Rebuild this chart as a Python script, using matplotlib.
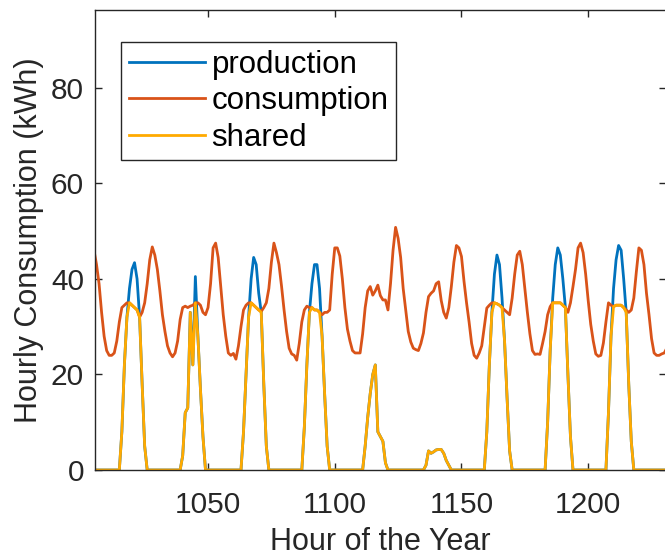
import numpy as np
import matplotlib
matplotlib.use("Agg")
import matplotlib.pyplot as plt

plt.rcParams['font.family'] = ['Liberation Sans', 'DejaVu Sans']

# hourly values, hour 1005 .. 1232 (rows of 24 hours starting at 1005)
hours = np.arange(1005, 1233)

consumption = [
    46, 43, 39, 33, 28, 25, 24, 24, 24.5, 27, 31, 34, 34.5, 35, 35, 34.5, 34, 33.5, 32, 33, 35, 39, 44, 46.7,
    45, 42, 37.5, 32.5, 29, 26, 24.5, 23.7, 24.5, 27, 31.5, 34, 34.3, 34, 34.3, 34.5, 35, 35, 34.5, 33, 32.5, 34, 39, 46.5,
    47.5, 44.5, 38.5, 32.5, 28, 24.5, 24, 24.4, 23.2, 26, 30, 33.5, 34.5, 35, 35, 34.5, 34, 33.5, 33.2, 34, 35, 38, 43.5, 47.5,
    45.5, 43, 38.5, 33.5, 29, 25.5, 24.3, 24, 23, 26.5, 31, 33.5, 34.3, 34, 34, 33.5, 33.5, 33, 32.5, 33, 33, 33.5, 41, 46.5,
    46.5, 44.8, 40, 34, 29.5, 27, 25, 24.5, 24.5, 24.5, 28.5, 34, 37.5, 38.4, 36.6, 37.5, 38.7, 36.5, 35.6, 35.6, 33.5, 39, 46, 50.8,
    48.5, 44.5, 38, 33.5, 29, 26.8, 25.5, 25.2, 25, 26.5, 28.7, 33, 36.3, 37, 37.5, 39, 39.4, 35.5, 33, 31.8, 34, 38.4, 43.5, 47,
    46.5, 44.7, 39.5, 35, 31, 26.5, 24, 23.4, 24.5, 26, 30, 33.9, 34.5, 35, 35, 34.8, 34.5, 34, 33.5, 33, 32.5, 36, 41, 45,
    45.8, 43, 38, 33, 28.5, 25, 24.2, 24.3, 24.2, 26.5, 29, 32.5, 34.2, 35, 35, 35, 35, 34.5, 34, 33, 35, 38.4, 42, 46.5,
    47.5, 45.5, 41, 35.5, 30.5, 27, 24.3, 23.8, 24, 26.6, 31, 35, 34.5, 34.2, 34.5, 34.5, 34.5, 34, 33.5, 33, 33.5, 36, 41.5, 46.5,
    46, 43, 37, 32.5, 27.5, 24.5, 24, 24, 24.3, 24.5, 25.5, 27,
]

production = [
    0, 0, 0, 0, 0, 0, 0, 0, 0, 0, 0, 8, 22, 32, 38, 42, 43.4, 40, 32, 18, 5, 0, 0, 0,
    0, 0, 0, 0, 0, 0, 0, 0, 0, 0, 0, 3, 12, 13, 33, 22, 40.5, 28, 17, 7, 0, 0, 0, 0,
    0, 0, 0, 0, 0, 0, 0, 0, 0, 0, 0, 8, 20, 32, 40, 44.5, 43, 37, 33, 18, 5, 0, 0, 0,
    0, 0, 0, 0, 0, 0, 0, 0, 0, 0, 0, 9, 22, 33, 39, 43, 43, 38, 28, 16, 5, 0, 0, 0,
    0, 0, 0, 0, 0, 0, 0, 0, 0, 0, 0, 5, 11, 16, 20, 22, 8, 7, 6, 1.5, 0, 0, 0, 0,
    0, 0, 0, 0, 0, 0, 0, 0, 0, 0, 0, 1, 4, 3.5, 3.8, 4.2, 4.3, 4.3, 3.5, 2, 1, 0, 0, 0,
    0, 0, 0, 0, 0, 0, 0, 0, 0, 0, 0, 8, 22, 33, 41, 45, 43, 36, 27, 15, 4, 0, 0, 0,
    0, 0, 0, 0, 0, 0, 0, 0, 0, 0, 0, 10, 25, 36, 43, 46.5, 45, 40, 34, 20, 7, 0, 0, 0,
    0, 0, 0, 0, 0, 0, 0, 0, 0, 0, 0, 12, 28, 38, 44, 47, 46, 40, 33, 18, 6, 0, 0, 0,
    0, 0, 0, 0, 0, 0, 0, 0, 0, 0, 0, 0,
]

shared = [
    0, 0, 0, 0, 0, 0, 0, 0, 0, 0, 0, 8, 22, 32, 35, 34.5, 34, 33.5, 32, 18, 5, 0, 0, 0,
    0, 0, 0, 0, 0, 0, 0, 0, 0, 0, 0, 3, 12, 13, 33, 22, 35, 28, 17, 7, 0, 0, 0, 0,
    0, 0, 0, 0, 0, 0, 0, 0, 0, 0, 0, 8, 20, 32, 35, 34.5, 34, 33.5, 33, 18, 5, 0, 0, 0,
    0, 0, 0, 0, 0, 0, 0, 0, 0, 0, 0, 9, 22, 33, 34, 33.5, 33.5, 33, 28, 16, 5, 0, 0, 0,
    0, 0, 0, 0, 0, 0, 0, 0, 0, 0, 0, 5, 11, 16, 20, 22, 8, 7, 6, 1.5, 0, 0, 0, 0,
    0, 0, 0, 0, 0, 0, 0, 0, 0, 0, 0, 1, 4, 3.5, 3.8, 4.2, 4.3, 4.3, 3.5, 2, 1, 0, 0, 0,
    0, 0, 0, 0, 0, 0, 0, 0, 0, 0, 0, 8, 22, 33, 35, 34.8, 34.5, 34, 27, 15, 4, 0, 0, 0,
    0, 0, 0, 0, 0, 0, 0, 0, 0, 0, 0, 10, 25, 35, 35, 35, 35, 34.5, 34, 20, 7, 0, 0, 0,
    0, 0, 0, 0, 0, 0, 0, 0, 0, 0, 0, 12, 28, 34.2, 34.5, 34.5, 34.5, 34, 33, 18, 6, 0, 0, 0,
    0, 0, 0, 0, 0, 0, 0, 0, 0, 0, 0, 0,
]

x_ticks = [1050, 1100, 1150, 1200]
y_ticks = [0, 20, 40, 60, 80]

fig = plt.figure(figsize=(6.65, 5.58), dpi=100)
ax = fig.add_axes([95 / 665, 88 / 558, 571 / 665, 460 / 558])

ax.plot(hours, production, color='#0072BD', lw=2, label='production')
ax.plot(hours, consumption, color='#D95319', lw=2, label='consumption')
ax.plot(hours, shared, color='#FFAA00', lw=2, label='shared')

ax.set_xlim(1005.4, 1230.7)
ax.set_ylim(0, 96.3)
ax.set_xticks(x_ticks)
ax.set_yticks(y_ticks)
ax.tick_params(direction='in', top=True, right=True, length=5, width=1,
               labelsize=21.5, colors='#262626')
ax.tick_params(axis='x', pad=15)
ax.tick_params(axis='y', pad=8)
for s in ax.spines.values():
    s.set_color('#262626')
    s.set_linewidth(1)

ax.set_xlabel('Hour of the Year', fontsize=22, color='#262626', labelpad=6)
ax.set_ylabel('Hourly Consumption (kWh)', fontsize=22, color='#262626', labelpad=5)

leg = ax.legend(loc='upper left', bbox_to_anchor=(0.0455, 0.93), borderaxespad=0,
                fontsize=22.5, handlelength=2.45, handletextpad=0.2, labelspacing=0.2,
                fancybox=False, framealpha=1, edgecolor='#262626', borderpad=0.25)
leg.get_frame().set_linewidth(1)

fig.savefig('out.png', dpi=100)
